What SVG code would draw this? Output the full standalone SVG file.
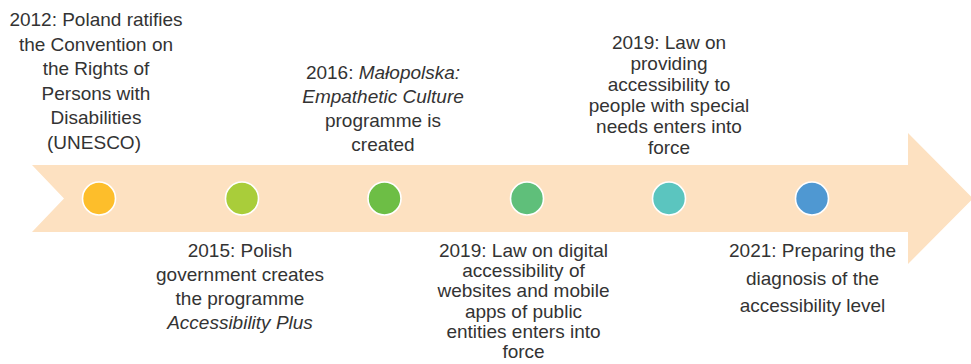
<svg xmlns="http://www.w3.org/2000/svg" width="971" height="364" viewBox="0 0 971 364">
  <style>
    .lbl { font-family: "Liberation Sans", Arial, sans-serif; font-size: 19px; fill: #333333; text-anchor: middle; }
    .it { font-style: italic; }
    .dot { stroke: #ffffff; stroke-width: 1.6; }
  </style>

  <!-- timeline arrow -->
  <g id="timeline-arrow">
    <polygon points="32,165 908,165 908,133 973,198.5 908,264 908,232 32,232 64,198.5" fill="#FDE1C1"/>
  </g>

  <!-- events -->
  <g id="event-2012">
    <circle class="dot" cx="99" cy="198.5" r="16.5" fill="#FDBE2B"/>
    <text class="lbl" x="96" y="26">2012: Poland ratifies</text>
    <text class="lbl" x="96" y="50.5">the Convention on</text>
    <text class="lbl" x="96" y="75">the Rights of</text>
    <text class="lbl" x="96" y="99.5">Persons with</text>
    <text class="lbl" x="96" y="124">Disabilities</text>
    <text class="lbl" x="94" y="149">(UNESCO)</text>
  </g>

  <g id="event-2015">
    <circle class="dot" cx="242" cy="198.5" r="16.5" fill="#A9CD3A"/>
    <text class="lbl" x="240" y="257">2015: Polish</text>
    <text class="lbl" x="240" y="281">government creates</text>
    <text class="lbl" x="240" y="305">the programme</text>
    <text class="lbl it" x="240" y="329">Accessibility Plus</text>
  </g>

  <g id="event-2016">
    <circle class="dot" cx="384.5" cy="198.5" r="16.5" fill="#6DBE45"/>
    <text class="lbl" x="383" y="79">2016: <tspan class="it">Małopolska:</tspan></text>
    <text class="lbl it" x="383" y="103">Empathetic Culture</text>
    <text class="lbl" x="383" y="127">programme is</text>
    <text class="lbl" x="383" y="151">created</text>
  </g>

  <g id="event-2019-digital">
    <circle class="dot" cx="527" cy="198.5" r="16.5" fill="#5FBF7A"/>
    <text class="lbl" x="523.5" y="257">2019: Law on digital</text>
    <text class="lbl" x="523.5" y="277">accessibility of</text>
    <text class="lbl" x="523.5" y="297">websites and mobile</text>
    <text class="lbl" x="523.5" y="317.5">apps of public</text>
    <text class="lbl" x="523.5" y="337.5">entities enters into</text>
    <text class="lbl" x="523.5" y="358">force</text>
  </g>

  <g id="event-2019-special-needs">
    <circle class="dot" cx="669" cy="198.5" r="16.5" fill="#5BC5BF"/>
    <text class="lbl" x="669" y="48.5">2019: Law on</text>
    <text class="lbl" x="669" y="69.5">providing</text>
    <text class="lbl" x="669" y="90.5">accessibility to</text>
    <text class="lbl" x="669" y="111.5">people with special</text>
    <text class="lbl" x="669" y="132.5">needs enters into</text>
    <text class="lbl" x="669" y="153.5">force</text>
  </g>

  <g id="event-2021">
    <circle class="dot" cx="812" cy="198.5" r="16.5" fill="#4F98D2"/>
    <text class="lbl" x="812.5" y="257">2021: Preparing the</text>
    <text class="lbl" x="812.5" y="284.5">diagnosis of the</text>
    <text class="lbl" x="812.5" y="312">accessibility level</text>
  </g>
</svg>
